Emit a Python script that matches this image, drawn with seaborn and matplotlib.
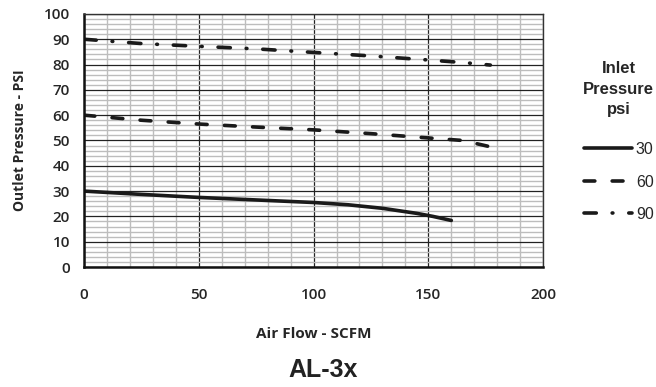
import numpy as np
import pandas as pd
import matplotlib
matplotlib.use('Agg')
import matplotlib.pyplot as plt
from matplotlib.ticker import MultipleLocator
import seaborn as sns

flow_30 = [0, 25, 50, 75, 100, 115, 130, 145, 152, 160]
out_30 = [30, 28.7, 27.5, 26.5, 25.5, 24.6, 23.2, 21.2, 20.0, 18.4]

flow_60 = [0, 25, 50, 75, 100, 125, 150, 165, 177]
out_60 = [60, 58, 56.5, 55.3, 54.2, 52.7, 51, 50, 47.5]

flow_90 = [0, 25, 50, 75, 100, 125, 150, 165, 177]
out_90 = [90, 88.3, 87.2, 86.2, 84.8, 83.4, 81.8, 80.8, 79.8]

inlet_labels = ['30', '60', '90']

df = pd.concat([
    pd.DataFrame({'flow': flow_30, 'outlet': out_30, 'inlet': '30'}),
    pd.DataFrame({'flow': flow_60, 'outlet': out_60, 'inlet': '60'}),
    pd.DataFrame({'flow': flow_90, 'outlet': out_90, 'inlet': '90'}),
])

sns.set_style('white')
plt.rcParams['font.family'] = ['Open Sans', 'DejaVu Sans']

fig = plt.figure(figsize=(6.56, 3.87), dpi=100)
ax = fig.add_axes([0.128, 0.31, 0.700, 0.654])

dashes = {'30': '', '60': (3.0, 4.8), '90': (3.4, 4.4, 0.2, 4.4)}
sns.lineplot(data=df, x='flow', y='outlet', hue='inlet', style='inlet',
             hue_order=inlet_labels, style_order=inlet_labels,
             palette=['#1a1a1a'] * 3, dashes=dashes, linewidth=2.6,
             sort=False, legend=False, ax=ax)
for line in ax.lines:
    line.set_dash_capstyle('round')
    line.set_solid_capstyle('round')

ax.set_xlim(0, 200)
ax.set_ylim(0, 100)
ax.xaxis.set_major_locator(MultipleLocator(50))
ax.xaxis.set_minor_locator(MultipleLocator(10))
ax.yaxis.set_major_locator(MultipleLocator(10))
ax.yaxis.set_minor_locator(MultipleLocator(2))

ax.grid(True, which='minor', color='#bdbdbd', linewidth=1.0)
ax.grid(True, which='major', color='#222222', linewidth=0.9)
ax.set_axisbelow(True)

for side in ['left', 'bottom']:
    ax.spines[side].set_color('#111111')
    ax.spines[side].set_linewidth(1.8)
for side in ['top', 'right']:
    ax.spines[side].set_color('#333333')
    ax.spines[side].set_linewidth(1.0)

ax.tick_params(axis='both', which='major', direction='out', length=5,
               width=1.2, color='#111111', labelsize=11)
ax.tick_params(axis='x', which='major', pad=10)
ax.tick_params(axis='y', which='major', pad=5)
ax.tick_params(which='minor', length=0)
for lab in ax.get_xticklabels() + ax.get_yticklabels():
    lab.set_fontweight('semibold')

ax.set_xlabel('Air Flow - SCFM', fontsize=11, fontweight='bold', labelpad=18)
ax.set_ylabel('Outlet Pressure - PSI', fontsize=10, fontweight='bold', labelpad=12)

fig.text(0.492, 0.044, 'AL-3x', ha='center', va='center', fontsize=18,
         fontweight='bold', family=['Liberation Sans', 'DejaVu Sans'],
         color='#222222')

leg = fig.legend(handles=ax.lines, labels=inlet_labels,
                 title='Inlet\nPressure\npsi', loc='upper left',
                 bbox_to_anchor=(0.889, 0.842), frameon=False,
                 handlelength=3.0, handletextpad=0.25, labelspacing=1.1,
                 borderpad=0.0, borderaxespad=0.0,
                 prop={'family': ['Liberation Sans', 'DejaVu Sans'], 'size': 11.5})
title = leg.get_title()
title.set_fontweight('bold')
title.set_fontsize(12)
title.set_family(['Liberation Sans', 'DejaVu Sans'])
title.set_multialignment('center')
title.set_linespacing(1.45)
leg._legend_box.sep = 18

fig.savefig('out.png', dpi=100)
